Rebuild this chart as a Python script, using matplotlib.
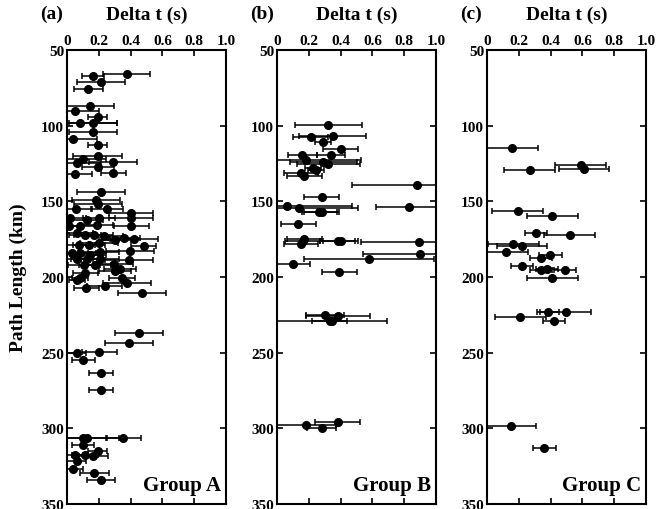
import numpy as np
import matplotlib.pyplot as plt

plt.rcParams['font.family'] = 'Liberation Serif'
plt.rcParams['font.weight'] = 'bold'

# group A: delta t (s), path length (km), error (s)
a_dt = [0.375, 0.165, 0.214, 0.134, 0.145, 0.05, 0.193, 0.082, 0.165, 0.165,
        0.04, 0.193, 0.193, 0.103, 0.061, 0.291, 0.193, 0.05, 0.291, 0.214,
        0.182, 0.193, 0.057, 0.252, 0.404, 0.404, 0.404, 0.02, 0.126, 0.203,
        0.01, 0.084, 0.189, 0.063, 0.115, 0.167, 0.231, 0.304, 0.357, 0.42,
        0.482, 0.074, 0.137, 0.2, 0.398, 0.031, 0.084, 0.147, 0.21, 0.063,
        0.126, 0.21, 0.388, 0.294, 0.105, 0.178, 0.335, 0.304, 0.115, 0.084,
        0.346, 0.063, 0.377, 0.121, 0.237, 0.472, 0.453, 0.392, 0.203, 0.061,
        0.103, 0.214, 0.214, 0.354, 0.103, 0.124, 0.099, 0.193, 0.05, 0.113,
        0.165, 0.061, 0.04, 0.172, 0.214]
a_len = [66, 67, 71, 76, 87, 90, 94, 98, 98, 104,
         109, 113, 120, 122, 124.5, 124.3, 127.6, 132, 131.6, 143.6,
         149, 151.8, 155.3, 155.3, 157.4, 161.2, 166.6, 161.2, 162.3, 161.2,
         166.2, 166.2, 165.6, 171, 172.1, 172.1, 173.2, 175.4, 173.9, 175,
         179.4, 178.7, 178.7, 177.6, 183.1, 184.2, 184.2, 185.3, 183.7, 188.2,
         188.2, 188.2, 188.6, 191.2, 191.9, 191.9, 194.7, 196.3, 197.4, 200.7,
         200.7, 202.2, 204, 207.2, 206.1, 210.5, 237, 243.5, 249.3, 250.4,
         254.8, 263.2, 274.6, 306.6, 306.3, 306.3, 311, 314.7, 317.6, 317.6,
         318, 321.3, 326.8, 329.4, 334]
a_err = [0.15, 0.07, 0.15, 0.09, 0.15, 0.15, 0.06, 0.23, 0.15, 0.15,
         0.15, 0.06, 0.155, 0.14, 0.15, 0.15, 0.1, 0.11, 0.08, 0.15,
         0.15, 0.15, 0.1, 0.1, 0.14, 0.14, 0.11, 0.1, 0.1, 0.1,
         0.08, 0.1, 0.1, 0.1, 0.1, 0.12, 0.12, 0.1, 0.1, 0.15,
         0.08, 0.1, 0.1, 0.12, 0.15, 0.1, 0.1, 0.1, 0.12, 0.1,
         0.1, 0.12, 0.15, 0.12, 0.1, 0.1, 0.1, 0.1, 0.08, 0.05,
         0.08, 0.05, 0.15, 0.08, 0.11, 0.15, 0.15, 0.15, 0.11, 0.06,
         0.07, 0.075, 0.075, 0.11, 0.15, 0.2, 0.07, 0.06, 0.06, 0.08,
         0.09, 0.06, 0.06, 0.09, 0.09]

b_dt = [0.323, 0.212, 0.35, 0.291, 0.40, 0.159, 0.34, 0.18, 0.291, 0.323,
        0.228, 0.243, 0.151, 0.172, 0.879, 0.281, 0.061, 0.14, 0.832, 0.266,
        0.281, 0.134, 0.172, 0.162, 0.151, 0.382, 0.40, 0.891, 0.90, 0.579,
        0.099, 0.392, 0.302, 0.382, 0.333, 0.344, 0.182, 0.382, 0.281]
b_len = [99.3, 107.2, 107, 110.7, 115.1, 119.5, 119.5, 122.4, 123.9, 125.2,
         127.8, 129.4, 131.6, 133.4, 139.5, 147.4, 153.1, 154.6, 153.5, 157.2,
         157.2, 165.1, 174.8, 176.5, 178.3, 176.5, 176.5, 177, 184.9, 188,
         191.4, 196.9, 225.2, 225.9, 229.2, 229.2, 297.6, 296, 299.8]
b_err = [0.21, 0.11, 0.21, 0.05, 0.11, 0.09, 0.09, 0.35, 0.21, 0.2,
         0.05, 0.05, 0.11, 0.11, 0.41, 0.11, 0.41, 0.37, 0.21, 0.11,
         0.11, 0.11, 0.11, 0.11, 0.11, 0.11, 0.11, 0.36, 0.36, 0.41,
         0.11, 0.11, 0.12, 0.2, 0.11, 0.35, 0.19, 0.14, 0.09]

c_dt = [0.16, 0.589, 0.61, 0.268, 0.192, 0.41, 0.31, 0.521, 0.166, 0.22,
        0.118, 0.399, 0.34, 0.22, 0.34, 0.378, 0.489, 0.41, 0.494, 0.382,
        0.209, 0.42, 0.15, 0.361]
c_len = [114.5, 126.1, 128.9, 129.1, 156.1, 159.4, 171, 172.4, 178.1, 179.4,
         183.8, 185.7, 187.3, 192.8, 195.4, 194.7, 195.4, 200.7, 222.8, 222.8,
         226.3, 229.1, 298.7, 313.2]
c_err = [0.16, 0.16, 0.16, 0.16, 0.16, 0.16, 0.07, 0.16, 0.16, 0.16,
         0.14, 0.07, 0.07, 0.07, 0.07, 0.07, 0.07, 0.16, 0.16, 0.07,
         0.16, 0.07, 0.16, 0.07]

panels = [('(a)', 'Group A', a_dt, a_len, a_err),
          ('(b)', 'Group B', b_dt, b_len, b_err),
          ('(c)', 'Group C', c_dt, c_len, c_err)]

fig = plt.figure(figsize=(6.65, 5.1), dpi=100)
lefts = [67, 277, 487]

for i, (tag, name, dt, ln, er) in enumerate(panels):
    ax = fig.add_axes([lefts[i] / 665, 1 - 505 / 510, 159 / 665, 454 / 510])
    ax.errorbar(dt, ln, xerr=er, fmt='o', color='black', ecolor='black',
                markersize=5.5, elinewidth=1.1, capsize=2, capthick=1.1)
    ax.set_xlim(0, 1.0)
    ax.set_ylim(350, 50)
    ax.set_xticks([0, 0.2, 0.4, 0.6, 0.8, 1.0])
    ax.set_xticklabels(['0', '0.2', '0.4', '0.6', '0.8', '1.0'])
    ax.set_yticks([50, 100, 150, 200, 250, 300, 350])
    ax.tick_params(direction='in', top=True, right=True, labeltop=True,
                   labelbottom=False, labelsize=11, length=4, width=1.2, pad=2)
    for s in ax.spines.values():
        s.set_linewidth(1.5)
    ax.xaxis.set_label_position('top')
    ax.set_xlabel('Delta t (s)', fontsize=14, fontweight='bold', labelpad=11)
    ax.text(-0.17, 1.081, tag, transform=ax.transAxes, fontsize=14,
            fontweight='bold', ha='left', va='center')
    ax.text(0.97, 0.02, name, transform=ax.transAxes, fontsize=15,
            fontweight='bold', ha='right', va='bottom')
    if i == 0:
        ax.set_ylabel('Path Length (km)', fontsize=14, fontweight='bold',
                      labelpad=10)

fig.savefig('out.png', dpi=100)
